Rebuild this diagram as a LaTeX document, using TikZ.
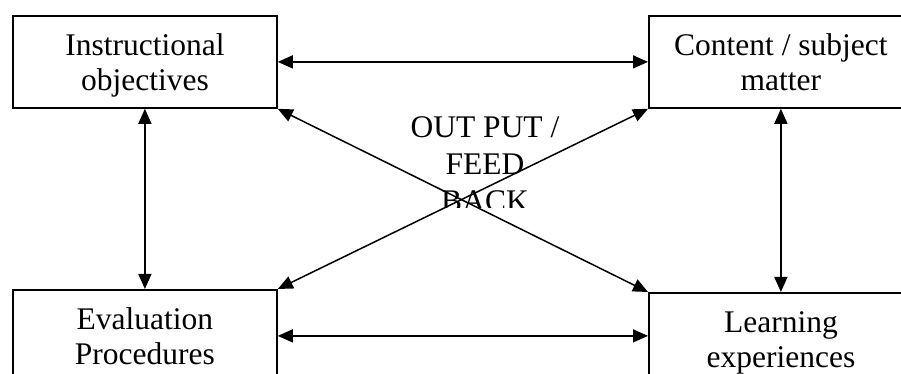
\documentclass[tikz,border=0pt]{standalone}
\usepackage{fontspec}
\setmainfont{Liberation Serif}
\usetikzlibrary{arrows.meta,positioning}

\begin{document}
\begin{tikzpicture}[
    x=1pt, y=1pt,
    block/.style={rectangle, draw=black, line width=1.8pt, anchor=north west, minimum width=264pt, align=center, font=\fontsize{31.5}{35}\selectfont, text height=71pt, text depth=13pt, inner sep=4pt},
    arrow/.style={{Triangle[length=15pt,width=13pt]}-{Triangle[length=15pt,width=13pt]}, line width=1.5pt},
]

\clip (0,0) rectangle (901,374);

% Boxes
\node[block] (obj) at (12,359) {Instructional\\objectives};
\node[block] (content) at (648,359) {Content / subject\\matter};
\node[block] (eval) at (12,85) {Evaluation\\Procedures};
\node[block] (learn) at (648,82) {Learning\\experiences};

% Centre label (text box cut off below)
\begin{scope}
\clip (380,166) rectangle (590,285);
\node[anchor=base, align=center, font=\fontsize{31.5}{37}\selectfont] (feedback) at (485,162) {OUT PUT /\\FEED\\BACK};
\end{scope}

% Arrows
\draw[arrow] (obj.east) -- (content.west);
\draw[arrow] (eval.east) -- (eval.east -| learn.west);
\draw[arrow] (obj.south) -- (eval.north);
\draw[arrow] (content.south) -- (learn.north);
\draw[arrow] (obj.south east) -- (learn.north west);
\draw[arrow] (content.south west) -- (eval.north east);

\end{tikzpicture}
\end{document}
